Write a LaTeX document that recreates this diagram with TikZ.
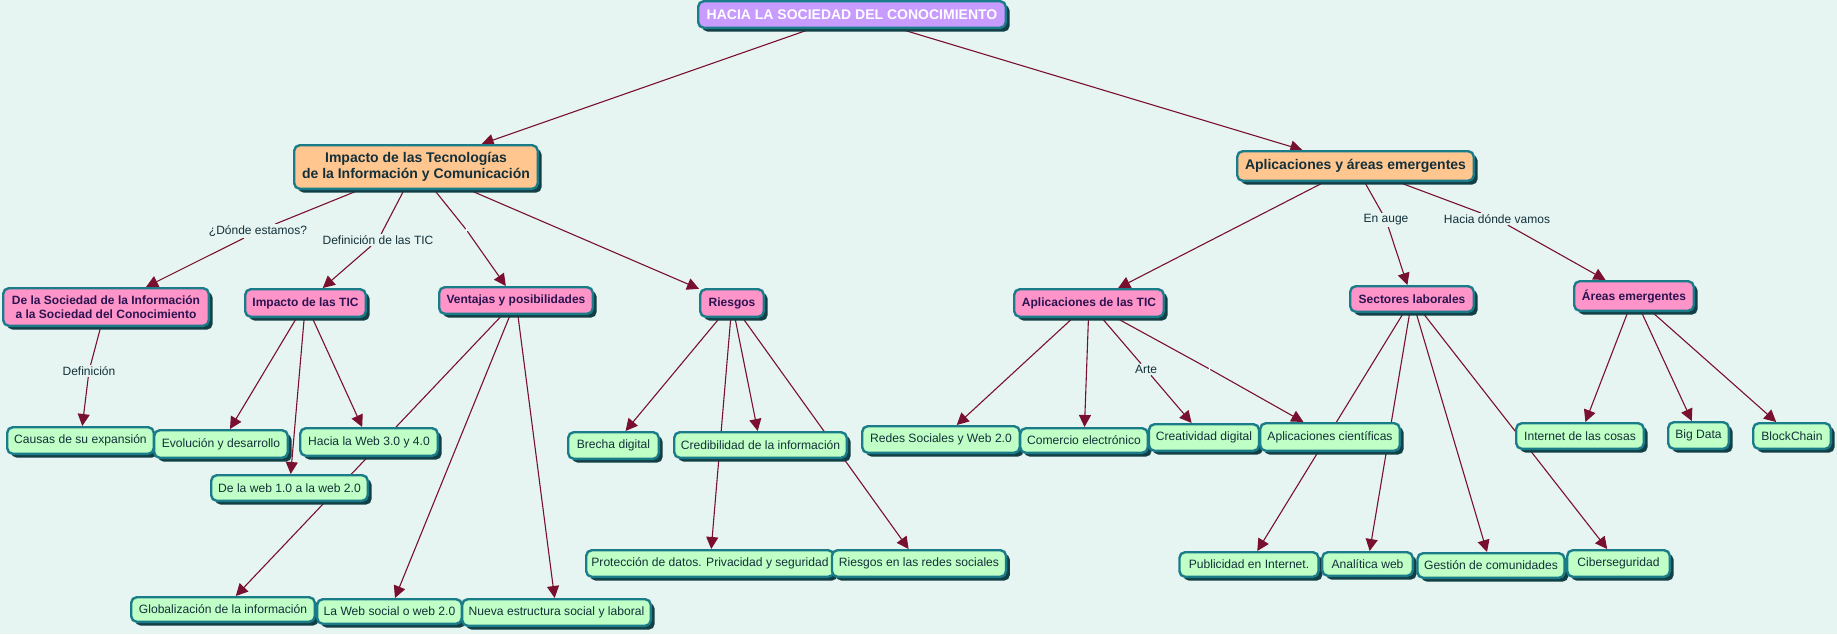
\documentclass[tikz,border=0pt]{standalone}
\usepackage{fontspec}
\setmainfont{Liberation Sans}
\usetikzlibrary{arrows.meta,shadows,backgrounds}
\definecolor{mapbg}{HTML}{E6F5F1}
\definecolor{rootfill}{HTML}{C89BFF}
\definecolor{topicfill}{HTML}{FFC690}
\definecolor{subfill}{HTML}{FF94C9}
\definecolor{leaffill}{HTML}{C0FFC6}
\definecolor{edgeteal}{HTML}{1A7C88}
\definecolor{shadowteal}{HTML}{123F45}
\definecolor{linkred}{HTML}{7A1030}
\definecolor{inktext}{HTML}{13303A}
\definecolor{subtext}{HTML}{2A1450}
\tikzset{
	sz/.style 2 args={minimum width=#1*0.5pt-1.2pt,minimum height=#2*0.5pt-1.2pt},
	concept/.style={draw=edgeteal,line width=1.2pt,rounded corners=2.8pt,inner sep=0pt,align=center,drop shadow={shadow xshift=1.9pt,shadow yshift=-1.9pt,opacity=1,fill=shadowteal}},
	rootbox/.style={concept,fill=rootfill,text=white,font=\fontsize{7}{9}\selectfont\bfseries},
	topicbox/.style={concept,fill=topicfill,text=inktext,font=\fontsize{7}{8.2}\selectfont\bfseries},
	subbox/.style={concept,fill=subfill,text=subtext,font=\fontsize{6}{7}\selectfont\bfseries},
	leafbox/.style={concept,fill=leaffill,text=inktext,font=\fontsize{6.05}{7.4}\selectfont},
	phrase/.style={fill=mapbg,text=inktext,inner sep=0.6pt,font=\fontsize{6}{7}\selectfont},
	gapmark/.style={fill=white,inner sep=0pt,minimum width=0.4pt,minimum height=3pt},
	lnk/.style={draw=linkred,line width=0.55pt},
	arr/.style={lnk,-{Triangle[length=6pt,width=6pt]}}
}
\begin{document}
\begin{tikzpicture}[x=0.5pt,y=-0.5pt]
	\useasboundingbox (0,0) rectangle (1837,634);
	\node [rootbox,sz={310}{29}] (root) at (852,14.5) {HACIA LA SOCIEDAD DEL CONOCIMIENTO};
	\node [topicbox,sz={246}{46}] (impactoTec) at (416,167) {Impacto de las Tecnologías\\de la Información y Comunicación};
	\node [topicbox,sz={239}{32}] (aplicAreas) at (1355.5,166) {Aplicaciones y áreas emergentes};
	\node [subbox,sz={208}{40}] (deLaSoc) at (106,307) {De la Sociedad de la Información\\a la Sociedad del Conocimiento};
	\node [subbox,sz={123}{30}] (impactoTic) at (305.5,303) {Impacto de las TIC};
	\node [subbox,sz={156}{29}] (ventajas) at (516,300.5) {Ventajas y posibilidades};
	\node [subbox,sz={66}{30}] (riesgos) at (732,303) {Riesgos};
	\node [subbox,sz={152}{30}] (aplicTic) at (1089,303) {Aplicaciones de las TIC};
	\node [subbox,sz={126}{28}] (sectores) at (1412,299) {Sectores laborales};
	\node [subbox,sz={122}{32}] (areas) at (1634,296) {Áreas emergentes};
	\node [leafbox,sz={149}{29}] (causas) at (80.5,440.5) {Causas de su expansión};
	\node [leafbox,sz={136}{30}] (evolucion) at (221,444) {Evolución y desarrollo};
	\node [leafbox,sz={140}{30}] (haciaWeb) at (369,442) {Hacia la Web 3.0 y 4.0};
	\node [leafbox,sz={159}{28}] (web12) at (289.5,488) {De la web 1.0 a la web 2.0};
	\node [leafbox,sz={186}{27}] (global) at (223,609.5) {Globalización de la información};
	\node [leafbox,sz={147}{27}] (webSocial) at (389.5,611.5) {La Web social o web 2.0};
	\node [leafbox,sz={191}{29}] (nueva) at (556.5,612.5) {Nueva estructura social y laboral};
	\node [leafbox,sz={93}{29}] (brecha) at (613.5,445.5) {Brecha digital};
	\node [leafbox,sz={175}{28}] (credib) at (760.5,445) {Credibilidad de la información};
	\node [leafbox,sz={250}{29}] (proteccion) at (710,563.5) {Protección de datos. Privacidad y seguridad};
	\node [leafbox,sz={176.5}{29}] (riesgosRedes) at (919,563.5) {Riesgos en las redes sociales};
	\node [leafbox,sz={160}{29}] (redes) at (941,439.5) {Redes Sociales y Web 2.0};
	\node [leafbox,sz={130}{27}] (comercio) at (1084,440.5) {Comercio electrónico};
	\node [leafbox,sz={112.5}{29}] (creativ) at (1204,437.5) {Creatividad digital};
	\node [leafbox,sz={142}{30}] (cientif) at (1330,437) {Aplicaciones científicas};
	\node [leafbox,sz={130}{28}] (internet) at (1580,436) {Internet de las cosas};
	\node [leafbox,sz={63}{29}] (bigData) at (1698.5,435.5) {Big Data};
	\node [leafbox,sz={80}{28}] (blockChain) at (1792,436) {BlockChain};
	\node [leafbox,sz={141.5}{27}] (publicidad) at (1249,564.5) {Publicidad en Internet.};
	\node [leafbox,sz={93}{26}] (analitica) at (1367.5,564) {Analítica web};
	\node [leafbox,sz={149.5}{27}] (gestion) at (1491,565.5) {Gestión de comunidades};
	\node [leafbox,sz={105}{29}] (ciber) at (1618.5,563.5) {Ciberseguridad};
	\node [phrase] (lnkDonde) at (258,231) {¿Dónde estamos?};
	\node [phrase] (lnkDefTic) at (378,240) {Definición de las TIC};
	\node [gapmark] (lnkVentajas) at (466.5,230) {};
	\node [phrase] (lnkDefin) at (89,371) {Definición};
	\node [phrase] (lnkAuge) at (1386,220) {En auge};
	\node [phrase] (lnkVamos) at (1497,219) {Hacia dónde vamos};
	\node [phrase] (lnkArte) at (1146,369.5) {Arte};
	\node [gapmark] (lnkCientif) at (1209.5,369) {};
	\begin{pgfonlayer}{background}
		\fill [mapbg] (0,0) rectangle (1837,634);
		\draw [arr] (root) -- (impactoTec);
		\draw [arr] (root) -- (aplicAreas);
		\draw [lnk] (impactoTec) -- (lnkDonde);
		\draw [arr] (lnkDonde) -- (deLaSoc);
		\draw [lnk] (impactoTec) -- (lnkDefTic);
		\draw [arr] (lnkDefTic) -- (impactoTic);
		\draw [lnk] (impactoTec) -- (lnkVentajas);
		\draw [arr] (lnkVentajas) -- (ventajas);
		\draw [arr] (impactoTec) -- (riesgos);
		\draw [lnk] (deLaSoc) -- (lnkDefin);
		\draw [arr] (lnkDefin) -- (causas);
		\foreach \kid in {evolucion,web12,haciaWeb}
			\draw [arr] (impactoTic) -- (\kid);
		\foreach \kid in {global,webSocial,nueva}
			\draw [arr] (ventajas) -- (\kid);
		\foreach \kid in {brecha,proteccion,credib,riesgosRedes}
			\draw [arr] (riesgos) -- (\kid);
		\draw [arr] (aplicAreas) -- (aplicTic);
		\draw [lnk] (aplicAreas) -- (lnkAuge);
		\draw [arr] (lnkAuge) -- (sectores);
		\draw [lnk] (aplicAreas) -- (lnkVamos);
		\draw [arr] (lnkVamos) -- (areas);
		\foreach \kid in {redes,comercio}
			\draw [arr] (aplicTic) -- (\kid);
		\draw [lnk] (aplicTic) -- (lnkArte);
		\draw [arr] (lnkArte) -- (creativ);
		\draw [lnk] (aplicTic) -- (lnkCientif);
		\draw [arr] (lnkCientif) -- (cientif);
		\foreach \kid in {publicidad,analitica,gestion,ciber}
			\draw [arr] (sectores) -- (\kid);
		\foreach \kid in {internet,bigData,blockChain}
			\draw [arr] (areas) -- (\kid);
	\end{pgfonlayer}
\end{tikzpicture}
\end{document}
